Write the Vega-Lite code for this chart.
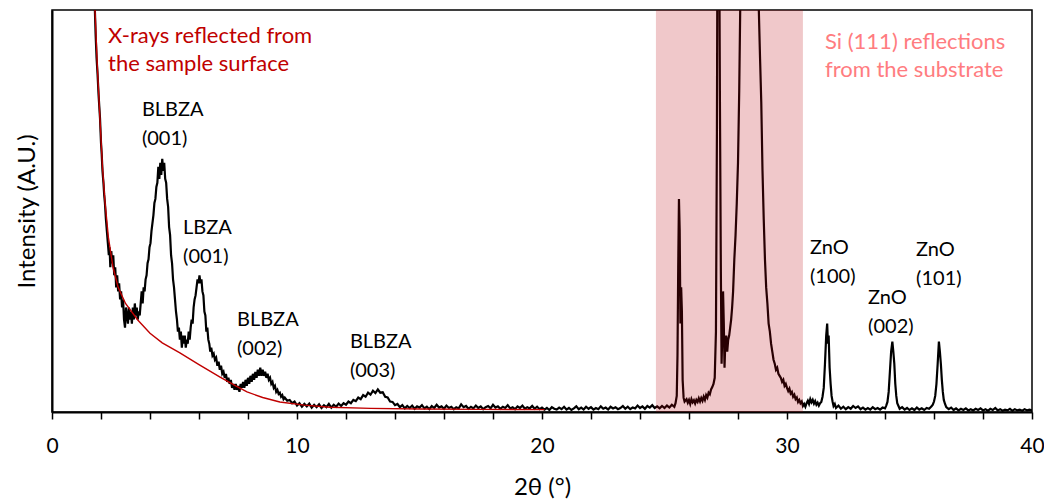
{
  "$schema": "https://vega.github.io/schema/vega-lite/v6.json",
  "width": 980,
  "height": 402,
  "autosize": {"type": "none"},
  "padding": {"left": 52, "top": 10, "right": 12, "bottom": 87},
  "background": "white",
  "config": {
    "view": {"stroke": "#000", "strokeWidth": 1.5},
    "font": "Lato",
    "axis": {"grid": false, "domainColor": "#000", "domainWidth": 2, "tickColor": "#000", "labelColor": "#000", "titleColor": "#000", "labelFont": "Lato", "titleFont": "Lato", "titleFontWeight": "normal"}
  },
  "datasets": {
    "xrd": [
      {"t":1.70,"i":110},{"t":1.75,"i":100},{"t":1.78,"i":94},{"t":1.82,"i":88},{"t":1.86,"i":84},{"t":1.90,"i":79},{"t":1.93,"i":76},{"t":1.96,"i":73},{"t":2.00,"i":67},{"t":2.03,"i":64},{"t":2.06,"i":60},{"t":2.10,"i":57},{"t":2.13,"i":54},{"t":2.16,"i":52},{"t":2.20,"i":48},{"t":2.24,"i":45},{"t":2.28,"i":42},{"t":2.32,"i":39},{"t":2.35,"i":41},{"t":2.38,"i":36},{"t":2.42,"i":40},{"t":2.46,"i":37},{"t":2.50,"i":39},{"t":2.54,"i":34},{"t":2.58,"i":36},{"t":2.62,"i":31},{"t":2.66,"i":34},{"t":2.70,"i":30},{"t":2.74,"i":32},{"t":2.78,"i":28},{"t":2.82,"i":30},{"t":2.86,"i":26},{"t":2.90,"i":28},{"t":2.94,"i":23},{"t":2.98,"i":21},{"t":3.02,"i":26},{"t":3.06,"i":24},{"t":3.10,"i":22},{"t":3.14,"i":26},{"t":3.18,"i":23},{"t":3.22,"i":25},{"t":3.26,"i":22},{"t":3.30,"i":26},{"t":3.34,"i":23},{"t":3.38,"i":27},{"t":3.42,"i":24},{"t":3.46,"i":26},{"t":3.50,"i":23},{"t":3.54,"i":25},{"t":3.58,"i":24},{"t":3.62,"i":27},{"t":3.66,"i":30},{"t":3.70,"i":27},{"t":3.74,"i":31},{"t":3.78,"i":30},{"t":3.82,"i":33},{"t":3.86,"i":34},{"t":3.90,"i":37},{"t":3.94,"i":38},{"t":3.98,"i":41},{"t":4.02,"i":42},{"t":4.06,"i":45},{"t":4.10,"i":47},{"t":4.14,"i":49},{"t":4.18,"i":52},{"t":4.22,"i":53},{"t":4.26,"i":56},{"t":4.30,"i":57},{"t":4.34,"i":61},{"t":4.38,"i":58},{"t":4.42,"i":62},{"t":4.46,"i":59},{"t":4.50,"i":63},{"t":4.54,"i":60},{"t":4.58,"i":62},{"t":4.62,"i":58},{"t":4.66,"i":57},{"t":4.70,"i":53},{"t":4.74,"i":51},{"t":4.78,"i":46},{"t":4.82,"i":44},{"t":4.86,"i":39},{"t":4.90,"i":37},{"t":4.94,"i":33},{"t":4.98,"i":31},{"t":5.02,"i":28},{"t":5.06,"i":25},{"t":5.10,"i":23},{"t":5.14,"i":20},{"t":5.18,"i":21},{"t":5.22,"i":18},{"t":5.26,"i":20},{"t":5.30,"i":16},{"t":5.34,"i":19},{"t":5.38,"i":17},{"t":5.42,"i":19},{"t":5.46,"i":16},{"t":5.50,"i":18},{"t":5.54,"i":17},{"t":5.58,"i":20},{"t":5.62,"i":18},{"t":5.66,"i":21},{"t":5.70,"i":23},{"t":5.74,"i":22},{"t":5.78,"i":26},{"t":5.82,"i":28},{"t":5.86,"i":29},{"t":5.90,"i":31},{"t":5.94,"i":33},{"t":5.98,"i":32},{"t":6.02,"i":34},{"t":6.06,"i":32},{"t":6.10,"i":33},{"t":6.14,"i":30},{"t":6.18,"i":29},{"t":6.22,"i":25},{"t":6.26,"i":24},{"t":6.30,"i":20},{"t":6.34,"i":21},{"t":6.38,"i":18},{"t":6.42,"i":17},{"t":6.46,"i":15},{"t":6.50,"i":16},{"t":6.55,"i":14},{"t":6.60,"i":14.5},{"t":6.65,"i":13},{"t":6.70,"i":13.5},{"t":6.75,"i":11.5},{"t":6.80,"i":12.5},{"t":6.85,"i":10.5},{"t":6.90,"i":11.5},{"t":6.95,"i":9.5},{"t":7.00,"i":10},{"t":7.05,"i":8.5},{"t":7.10,"i":9.5},{"t":7.15,"i":7.5},{"t":7.20,"i":8.5},{"t":7.25,"i":7},{"t":7.30,"i":8},{"t":7.35,"i":6},{"t":7.40,"i":7},{"t":7.45,"i":5.5},{"t":7.50,"i":7},{"t":7.55,"i":5.5},{"t":7.60,"i":6.5},{"t":7.65,"i":5},{"t":7.70,"i":7},{"t":7.75,"i":6},{"t":7.80,"i":7.5},{"t":7.85,"i":6},{"t":7.90,"i":8},{"t":7.95,"i":6.5},{"t":8.00,"i":8.5},{"t":8.05,"i":7},{"t":8.10,"i":9},{"t":8.15,"i":7.5},{"t":8.20,"i":9.5},{"t":8.25,"i":8},{"t":8.30,"i":10},{"t":8.35,"i":8.5},{"t":8.40,"i":10.5},{"t":8.45,"i":9},{"t":8.50,"i":11},{"t":8.55,"i":9},{"t":8.60,"i":10.5},{"t":8.65,"i":9},{"t":8.70,"i":10},{"t":8.75,"i":8.5},{"t":8.80,"i":9.5},{"t":8.85,"i":8},{"t":8.90,"i":8.5},{"t":8.95,"i":7},{"t":9.00,"i":7.5},{"t":9.05,"i":6},{"t":9.10,"i":6.5},{"t":9.15,"i":5},{"t":9.20,"i":5.5},{"t":9.25,"i":4.5},{"t":9.30,"i":4.8},{"t":9.35,"i":3.8},{"t":9.40,"i":4.2},{"t":9.45,"i":3.2},{"t":9.50,"i":3.6},{"t":9.60,"i":2.8},{"t":9.70,"i":3.0},{"t":9.80,"i":2.2},{"t":9.90,"i":2.6},{"t":10.0,"i":1.6},{"t":10.1,"i":2.2},{"t":10.2,"i":1.3},{"t":10.3,"i":2.0},{"t":10.4,"i":1.4},{"t":10.5,"i":2.1},{"t":10.6,"i":1.1},{"t":10.7,"i":1.8},{"t":10.8,"i":1.2},{"t":10.9,"i":1.9},{"t":11.0,"i":1.0},{"t":11.1,"i":1.7},{"t":11.2,"i":1.2},{"t":11.3,"i":2.0},{"t":11.4,"i":1.1},{"t":11.5,"i":1.8},{"t":11.6,"i":1.3},{"t":11.7,"i":2.1},{"t":11.8,"i":1.5},{"t":11.9,"i":2.2},{"t":12.0,"i":1.8},{"t":12.1,"i":2.6},{"t":12.2,"i":2.2},{"t":12.3,"i":3.0},{"t":12.4,"i":2.7},{"t":12.5,"i":3.6},{"t":12.6,"i":3.2},{"t":12.7,"i":4.2},{"t":12.8,"i":3.8},{"t":12.9,"i":4.8},{"t":13.0,"i":4.3},{"t":13.1,"i":5.3},{"t":13.2,"i":4.7},{"t":13.3,"i":5.6},{"t":13.4,"i":4.8},{"t":13.5,"i":4.9},{"t":13.6,"i":3.8},{"t":13.7,"i":3.6},{"t":13.8,"i":2.6},{"t":13.9,"i":2.5},{"t":14.0,"i":1.7},{"t":14.1,"i":2.0},{"t":14.2,"i":1.2},{"t":14.3,"i":1.7},{"t":14.4,"i":0.9},{"t":14.5,"i":1.5},
      {"t":14.6,"i":1.0},{"t":14.7,"i":1.6},{"t":14.8,"i":0.8},{"t":14.9,"i":1.4},{"t":15.0,"i":1.1},{"t":15.1,"i":1.7},{"t":15.2,"i":0.9},{"t":15.3,"i":1.3},{"t":15.4,"i":0.7},{"t":15.5,"i":1.5},{"t":15.6,"i":1.0},{"t":15.7,"i":1.8},{"t":15.8,"i":1.1},{"t":15.9,"i":1.4},{"t":16.0,"i":0.8},{"t":16.1,"i":1.6},{"t":16.2,"i":1.0},{"t":16.3,"i":1.3},{"t":16.4,"i":0.7},{"t":16.5,"i":1.2},{"t":16.6,"i":0.9},{"t":16.7,"i":1.9},{"t":16.8,"i":1.2},{"t":16.9,"i":1.5},{"t":17.0,"i":0.8},{"t":17.1,"i":1.3},{"t":17.2,"i":0.9},{"t":17.3,"i":1.6},{"t":17.4,"i":1.0},{"t":17.5,"i":1.4},{"t":17.6,"i":0.7},{"t":17.7,"i":1.2},{"t":17.8,"i":1.5},{"t":17.9,"i":0.9},{"t":18.0,"i":1.8},{"t":18.1,"i":1.1},{"t":18.2,"i":1.4},{"t":18.3,"i":0.8},{"t":18.4,"i":1.3},{"t":18.5,"i":1.0},{"t":18.6,"i":1.7},{"t":18.7,"i":0.9},{"t":18.8,"i":1.2},{"t":18.9,"i":0.7},{"t":19.0,"i":1.4},{"t":19.1,"i":1.0},{"t":19.2,"i":1.6},{"t":19.3,"i":0.8},{"t":19.4,"i":1.2},{"t":19.5,"i":0.9},{"t":19.6,"i":1.5},{"t":19.7,"i":0.8},{"t":19.8,"i":1.3},{"t":19.9,"i":0.7},{"t":20.0,"i":1.1},{"t":20.1,"i":0.6},{"t":20.2,"i":1.0},{"t":20.3,"i":0.5},{"t":20.4,"i":1.2},{"t":20.5,"i":0.8},{"t":20.6,"i":0.6},{"t":20.7,"i":1.1},{"t":20.8,"i":0.7},{"t":20.9,"i":1.3},{"t":21.0,"i":0.6},{"t":21.1,"i":1.0},{"t":21.2,"i":0.5},{"t":21.3,"i":0.9},{"t":21.4,"i":1.4},{"t":21.5,"i":0.7},{"t":21.6,"i":1.1},{"t":21.7,"i":0.6},{"t":21.8,"i":1.3},{"t":21.9,"i":0.8},{"t":22.0,"i":1.2},{"t":22.1,"i":0.6},{"t":22.2,"i":1.0},{"t":22.3,"i":0.7},{"t":22.4,"i":1.4},{"t":22.5,"i":0.8},{"t":22.6,"i":1.1},{"t":22.7,"i":0.6},{"t":22.8,"i":1.3},{"t":22.9,"i":0.9},{"t":23.0,"i":1.2},{"t":23.1,"i":0.7},{"t":23.2,"i":1.0},{"t":23.3,"i":1.5},{"t":23.4,"i":0.8},{"t":23.5,"i":1.3},{"t":23.6,"i":0.7},{"t":23.7,"i":1.1},{"t":23.8,"i":0.9},{"t":23.9,"i":1.6},{"t":24.0,"i":1.0},{"t":24.1,"i":1.4},{"t":24.2,"i":0.8},{"t":24.3,"i":1.5},{"t":24.4,"i":1.1},{"t":24.5,"i":1.7},{"t":24.6,"i":1.0},{"t":24.7,"i":1.4},{"t":24.8,"i":0.9},{"t":24.9,"i":1.5},{"t":25.0,"i":1.0},{"t":25.1,"i":1.6},{"t":25.2,"i":1.1},{"t":25.3,"i":1.8},{"t":25.4,"i":1.3},{"t":25.45,"i":2.2},{"t":25.5,"i":4},{"t":25.53,"i":14},{"t":25.56,"i":36},{"t":25.59,"i":53},{"t":25.62,"i":45},{"t":25.65,"i":22},{"t":25.68,"i":31},{"t":25.71,"i":25},{"t":25.74,"i":8},{"t":25.78,"i":3.5},{"t":25.82,"i":2.6},{"t":25.9,"i":3.2},{"t":25.95,"i":2.3},{"t":26.0,"i":3.0},{"t":26.05,"i":2.0},{"t":26.1,"i":3.2},{"t":26.15,"i":2.4},{"t":26.2,"i":2.9},{"t":26.25,"i":2.1},{"t":26.3,"i":3.0},{"t":26.35,"i":2.5},{"t":26.4,"i":3.4},{"t":26.45,"i":2.6},{"t":26.5,"i":3.5},{"t":26.55,"i":2.8},{"t":26.6,"i":3.8},{"t":26.65,"i":3.0},{"t":26.7,"i":4.2},{"t":26.75,"i":3.6},{"t":26.8,"i":4.8},{"t":26.85,"i":4.4},{"t":26.9,"i":5.6},{"t":26.95,"i":6.2},{"t":27.0,"i":7.0},{"t":27.05,"i":8.5},{"t":27.1,"i":20},{"t":27.14,"i":70},{"t":27.17,"i":140},{"t":27.22,"i":140},{"t":27.26,"i":80},{"t":27.3,"i":35},{"t":27.33,"i":12},{"t":27.36,"i":20},{"t":27.39,"i":30},{"t":27.42,"i":22},{"t":27.45,"i":11},{"t":27.48,"i":17},{"t":27.52,"i":19},{"t":27.56,"i":15},{"t":27.6,"i":18},{"t":27.64,"i":19},{"t":27.68,"i":21},{"t":27.72,"i":23},{"t":27.76,"i":26},{"t":27.8,"i":30},{"t":27.85,"i":38},{"t":27.9,"i":44},{"t":27.95,"i":52},{"t":28.0,"i":62},{"t":28.05,"i":80},{"t":28.1,"i":105},{"t":28.2,"i":160},{"t":28.4,"i":200},{"t":28.6,"i":200},{"t":28.8,"i":110},{"t":28.85,"i":100},{"t":28.9,"i":88},{"t":28.95,"i":77},{"t":29.0,"i":60},{"t":29.05,"i":48},{"t":29.1,"i":38},{"t":29.15,"i":31},{"t":29.2,"i":27},{"t":29.25,"i":22},{"t":29.3,"i":20},{"t":29.35,"i":17},{"t":29.4,"i":15},{"t":29.45,"i":13},{"t":29.5,"i":12},{"t":29.55,"i":10.5},{"t":29.6,"i":11},{"t":29.65,"i":9.5},{"t":29.7,"i":9},{"t":29.75,"i":8.5},{"t":29.8,"i":7.5},{"t":29.85,"i":8},{"t":29.9,"i":6.5},{"t":29.95,"i":7},{"t":30.0,"i":6},{"t":30.05,"i":5.2},{"t":30.1,"i":5.8},{"t":30.15,"i":4.6},{"t":30.2,"i":5.0},{"t":30.25,"i":3.8},{"t":30.3,"i":4.3},{"t":30.35,"i":3.2},{"t":30.4,"i":3.6},{"t":30.45,"i":2.5},{"t":30.5,"i":3.0},{"t":30.55,"i":2.2},{"t":30.6,"i":2.6},{"t":30.65,"i":1.5},{"t":30.7,"i":2.0},{"t":30.75,"i":1.3},{"t":30.8,"i":2.2},{"t":30.85,"i":2.8},{"t":30.9,"i":2.0},{"t":30.95,"i":3.2},{"t":31.0,"i":2.4},{"t":31.05,"i":3.0},{"t":31.1,"i":2.1},{"t":31.15,"i":2.7},{"t":31.2,"i":1.8},{"t":31.25,"i":2.3},{"t":31.3,"i":1.6},{"t":31.35,"i":2.2},{"t":31.4,"i":2.5},{"t":31.45,"i":3.8},{"t":31.5,"i":6},{"t":31.55,"i":12},{"t":31.6,"i":19},{"t":31.64,"i":22},{"t":31.67,"i":17},{"t":31.7,"i":19},{"t":31.74,"i":11},{"t":31.78,"i":7},{"t":31.82,"i":4},{"t":31.86,"i":2.6},{"t":31.9,"i":1.5},{"t":31.95,"i":2.0},{"t":32.0,"i":1.0},{"t":32.1,"i":1.6},{"t":32.2,"i":0.8},{"t":32.3,"i":1.3},{"t":32.4,"i":0.7},{"t":32.5,"i":1.2},{"t":32.6,"i":0.8},{"t":32.7,"i":1.5},{"t":32.8,"i":1.0},{"t":32.9,"i":1.4},{"t":33.0,"i":0.7},{"t":33.1,"i":1.1},{"t":33.2,"i":0.6},{"t":33.3,"i":1.0},{"t":33.4,"i":0.6},{"t":33.5,"i":1.2},{"t":33.6,"i":0.7},{"t":33.7,"i":1.0},{"t":33.8,"i":0.6},{"t":33.9,"i":1.1},{"t":34.0,"i":0.9},{"t":34.05,"i":1.6},{"t":34.1,"i":2.5},{"t":34.15,"i":5},{"t":34.2,"i":10},{"t":34.25,"i":15},{"t":34.3,"i":17.5},{"t":34.34,"i":15},{"t":34.38,"i":12},{"t":34.42,"i":7},{"t":34.46,"i":4},{"t":34.5,"i":2.2},{"t":34.55,"i":1.5},{"t":34.6,"i":0.8},{"t":34.7,"i":1.2},{"t":34.8,"i":0.6},{"t":34.9,"i":1.0},{"t":35.0,"i":0.5},{"t":35.1,"i":0.9},{"t":35.2,"i":0.5},{"t":35.3,"i":1.1},{"t":35.4,"i":0.6},{"t":35.5,"i":0.9},{"t":35.6,"i":0.5},{"t":35.7,"i":1.0},{"t":35.8,"i":0.8},{"t":35.9,"i":1.4},{"t":35.95,"i":1.8},{"t":36.0,"i":2.6},{"t":36.05,"i":4},{"t":36.1,"i":7},{"t":36.15,"i":12},{"t":36.2,"i":17.5},{"t":36.24,"i":15},{"t":36.28,"i":12},{"t":36.32,"i":8},{"t":36.36,"i":5},{"t":36.4,"i":3},{"t":36.45,"i":2},{"t":36.5,"i":1.2},{"t":36.6,"i":0.7},{"t":36.7,"i":1.1},{"t":36.8,"i":0.5},{"t":36.9,"i":0.9},{"t":37.0,"i":0.4},{"t":37.1,"i":0.8},{"t":37.2,"i":0.5},{"t":37.3,"i":0.9},{"t":37.4,"i":0.4},{"t":37.5,"i":0.7},{"t":37.6,"i":0.4},{"t":37.7,"i":0.8},{"t":37.8,"i":0.5},{"t":37.9,"i":0.9},{"t":38.0,"i":0.4},{"t":38.1,"i":0.7},{"t":38.2,"i":0.3},{"t":38.3,"i":0.8},{"t":38.4,"i":0.5},{"t":38.5,"i":1.0},{"t":38.6,"i":0.4},{"t":38.7,"i":0.7},{"t":38.8,"i":0.3},{"t":38.9,"i":0.6},{"t":39.0,"i":0.4},{"t":39.1,"i":0.8},{"t":39.2,"i":0.3},{"t":39.3,"i":0.7},{"t":39.4,"i":0.4},{"t":39.5,"i":0.6},{"t":39.6,"i":0.3},{"t":39.7,"i":0.7},{"t":39.8,"i":0.4},{"t":39.9,"i":0.6},{"t":40.0,"i":0.4}
    ],
    "fit": [
      {"t":1.70,"i":110},{"t":1.755,"i":100},{"t":1.85,"i":86},{"t":1.96,"i":72.6},{"t":2.06,"i":61},{"t":2.16,"i":52.5},{"t":2.3,"i":43.5},{"t":2.49,"i":36},{"t":2.7,"i":31},{"t":3.0,"i":27},{"t":3.5,"i":22.9},{"t":4.0,"i":19.6},{"t":4.5,"i":17.2},{"t":5.22,"i":14.7},{"t":6.0,"i":11.8},{"t":6.86,"i":8.7},{"t":7.5,"i":6.5},{"t":7.96,"i":5.0},{"t":8.6,"i":3.6},{"t":9.3,"i":2.5},{"t":10.3,"i":1.7},{"t":11.35,"i":1.2},{"t":13.0,"i":0.9},{"t":15.0,"i":0.75},{"t":17.5,"i":0.65},{"t":20.1,"i":0.6}
    ]
  },
  "layer": [
    {
      "data": {"name": "xrd"},
      "mark": {"type": "line", "color": "#000", "strokeWidth": 2.2, "clip": true, "interpolate": "linear"},
      "encoding": {
        "x": {"field": "t", "type": "quantitative", "scale": {"domain": [0, 40], "nice": false},
          "axis": {"title": "2θ (°)", "titleFontSize": 24, "labelFontSize": 21, "values": [0,1,2,3,4,5,6,7,8,9,10,11,12,13,14,15,16,17,18,19,20,21,22,23,24,25,26,27,28,29,30,31,32,33,34,35,36,37,38,39,40],
            "labelExpr": "datum.value % 5 === 0 ? datum.label : ''", "tickSize": 7, "tickWidth": 1.5, "labelPadding": 16, "titlePadding": 19, "labelFlush": false}},
        "y": {"field": "i", "type": "quantitative", "scale": {"domain": [0, 100], "nice": false},
          "axis": {"title": "Intensity (A.U.)", "titleFontSize": 24, "labels": false, "ticks": false, "titlePadding": 13}}
      }
    },
    {
      "data": {"name": "fit"},
      "mark": {"type": "line", "color": "#c00000", "strokeWidth": 1.4, "clip": true},
      "encoding": {
        "x": {"field": "t", "type": "quantitative"},
        "y": {"field": "i", "type": "quantitative"}
      }
    },
    {
      "data": {"values": [{"start": 24.65, "end": 30.65}]},
      "mark": {"type": "rect", "color": "#b9000a", "opacity": 0.216},
      "encoding": {
        "x": {"field": "start", "type": "quantitative"},
        "x2": {"field": "end"}
      }
    },
    {
      "data": {"values": [{"x": 2.29, "y": 96.0, "label": "X-rays reflected from\nthe sample surface"}]},
      "mark": {"type": "text", "align": "left", "baseline": "top", "fontSize": 22, "lineHeight": 28, "lineBreak": "\n", "color": "#c00000", "font": "Lato"},
      "encoding": {
        "x": {"field": "x", "type": "quantitative"},
        "y": {"field": "y", "type": "quantitative"},
        "text": {"field": "label"}
      }
    },
    {
      "data": {"values": [{"x": 31.55, "y": 94.5, "label": "Si (111) reflections\nfrom the substrate"}]},
      "mark": {"type": "text", "align": "left", "baseline": "top", "fontSize": 22, "lineHeight": 28, "lineBreak": "\n", "color": "#ff7c80", "font": "Lato"},
      "encoding": {
        "x": {"field": "x", "type": "quantitative"},
        "y": {"field": "y", "type": "quantitative"},
        "text": {"field": "label"}
      }
    },
    {
      "data": {"values": [
        {"x": 3.67, "y": 77.6, "label": "BLBZA\n(001)"},
        {"x": 5.35, "y": 48.2, "label": "LBZA\n(001)"},
        {"x": 7.55, "y": 25.3, "label": "BLBZA\n(002)"},
        {"x": 12.16, "y": 19.9, "label": "BLBZA\n(003)"},
        {"x": 30.94, "y": 43.2, "label": "ZnO\n(100)"},
        {"x": 33.31, "y": 30.8, "label": "ZnO\n(002)"},
        {"x": 35.27, "y": 42.7, "label": "ZnO\n(101)"}
      ]},
      "mark": {"type": "text", "align": "left", "baseline": "top", "fontSize": 20, "lineHeight": 29, "lineBreak": "\n", "color": "#000", "font": "Lato"},
      "encoding": {
        "x": {"field": "x", "type": "quantitative"},
        "y": {"field": "y", "type": "quantitative"},
        "text": {"field": "label"}
      }
    }
  ]
}
